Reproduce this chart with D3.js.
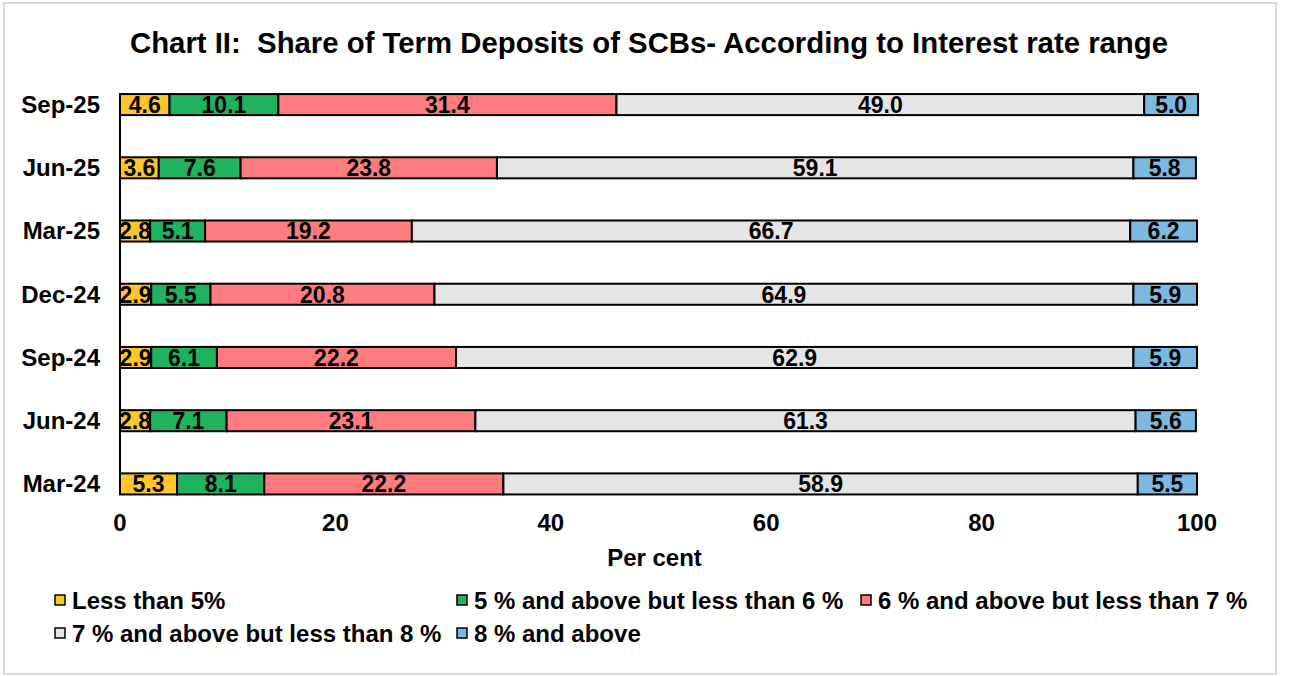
<!DOCTYPE html>
<html><head><meta charset="utf-8">
<script src="https://cdn.jsdelivr.net/npm/d3@7"></script>
<style>
html,body{margin:0;padding:0;background:#fff;}
text{font-family:"Liberation Sans",Arial,sans-serif;font-weight:bold;fill:#000;}
</style></head>
<body>
<svg id="chart" width="1289" height="676"></svg>
<script>
const categories = ["Sep-25","Jun-25","Mar-25","Dec-24","Sep-24","Jun-24","Mar-24"];
const seriesNames = ["Less than 5%","5 % and above but less than 6 %","6 % and above but less than 7 %","7 % and above but less than 8 %","8 % and above"];
const lessThan5 = [4.6,3.6,2.8,2.9,2.9,2.8,5.3];
const from5to6  = [10.1,7.6,5.1,5.5,6.1,7.1,8.1];
const from6to7  = [31.4,23.8,19.2,20.8,22.2,23.1,22.2];
const from7to8  = [49.0,59.1,66.7,64.9,62.9,61.3,58.9];
const above8    = [5.0,5.8,6.2,5.9,5.9,5.6,5.5];
const xTicks = [0,20,40,60,80,100];
const colors = ["#FFC52B","#1FB360","#FF7C7E","#E5E5E5","#7BB8E2"];
const title = "Chart II:  Share of Term Deposits of SCBs- According to Interest rate range";

const svg = d3.select("#chart");
svg.append("rect").attr("x",4).attr("y",3).attr("width",1272).attr("height",671)
  .attr("fill","#fff").attr("stroke","#d9d9d9").attr("stroke-width",2);

const x = d3.scaleLinear().domain([0,100]).range([120,1197]);
const y = d3.scaleBand().domain(categories).range([73,515.5]).paddingInner(0.667).paddingOuter(0.333);

const t = svg.append("text").attr("x",649).attr("y",53).attr("text-anchor","middle")
  .style("font-size","30px").style("white-space","pre").text(title);
t.attr("textLength",1038).attr("lengthAdjust","spacingAndGlyphs");

const rows = categories.map((c,i)=>({cat:c, vals:[lessThan5[i],from5to6[i],from6to7[i],from7to8[i],above8[i]]}));
const segs = [];
rows.forEach(r=>{let acc=0; r.vals.forEach((v,k)=>{segs.push({cat:r.cat,k,v,x0:acc,x1:acc+v}); acc+=v;});});

const g = svg.append("g");
g.selectAll("rect.seg").data(segs).enter().append("rect").attr("class","seg")
  .attr("x",d=>x(d.x0)).attr("width",d=>x(d.x1)-x(d.x0))
  .attr("y",d=>y(d.cat)).attr("height",y.bandwidth())
  .attr("fill",d=>colors[d.k]).attr("stroke","#000").attr("stroke-width",2);

// category axis line
svg.append("line").attr("x1",x(0)).attr("x2",x(0))
  .attr("y1",y(categories[0])).attr("y2",y(categories[categories.length-1])+y.bandwidth())
  .attr("stroke","#000").attr("stroke-width",2);

g.selectAll("text.lab").data(segs).enter().append("text").attr("class","lab")
  .attr("x",d=>(x(d.x0)+x(d.x1))/2).attr("y",d=>y(d.cat)+y.bandwidth()/2)
  .attr("dy","0.36em").attr("text-anchor","middle").style("font-size","23px")
  .text(d=>d.v.toFixed(1));

svg.selectAll("text.cat").data(categories).enter().append("text").attr("class","cat")
  .attr("x",100).attr("y",d=>y(d)+y.bandwidth()/2).attr("dy","0.35em")
  .attr("text-anchor","end").style("font-size","24px").text(d=>d);

svg.selectAll("text.tick").data(xTicks).enter().append("text").attr("class","tick")
  .attr("x",d=>x(d)).attr("y",531).attr("text-anchor","middle").style("font-size","24px").text(d=>d);

svg.append("text").attr("x",(x(0)+x(100))/2-4).attr("y",566).attr("text-anchor","middle")
  .style("font-size","24px").text("Per cent");

const legPos = [[55,600],[457,600],[861,600],[55,633],[457,633]];
const leg = svg.selectAll("g.leg").data(seriesNames).enter().append("g").attr("class","leg")
  .attr("transform",(d,i)=>`translate(${legPos[i][0]},${legPos[i][1]})`);
leg.append("rect").attr("x",0).attr("y",-5).attr("width",10).attr("height",10)
  .attr("fill",(d,i)=>colors[i]).attr("stroke","#000").attr("stroke-width",1.5);
leg.append("text").attr("x",17).attr("y",0).attr("dy","0.36em").style("font-size","24px").text(d=>d);
</script>
</body></html>
